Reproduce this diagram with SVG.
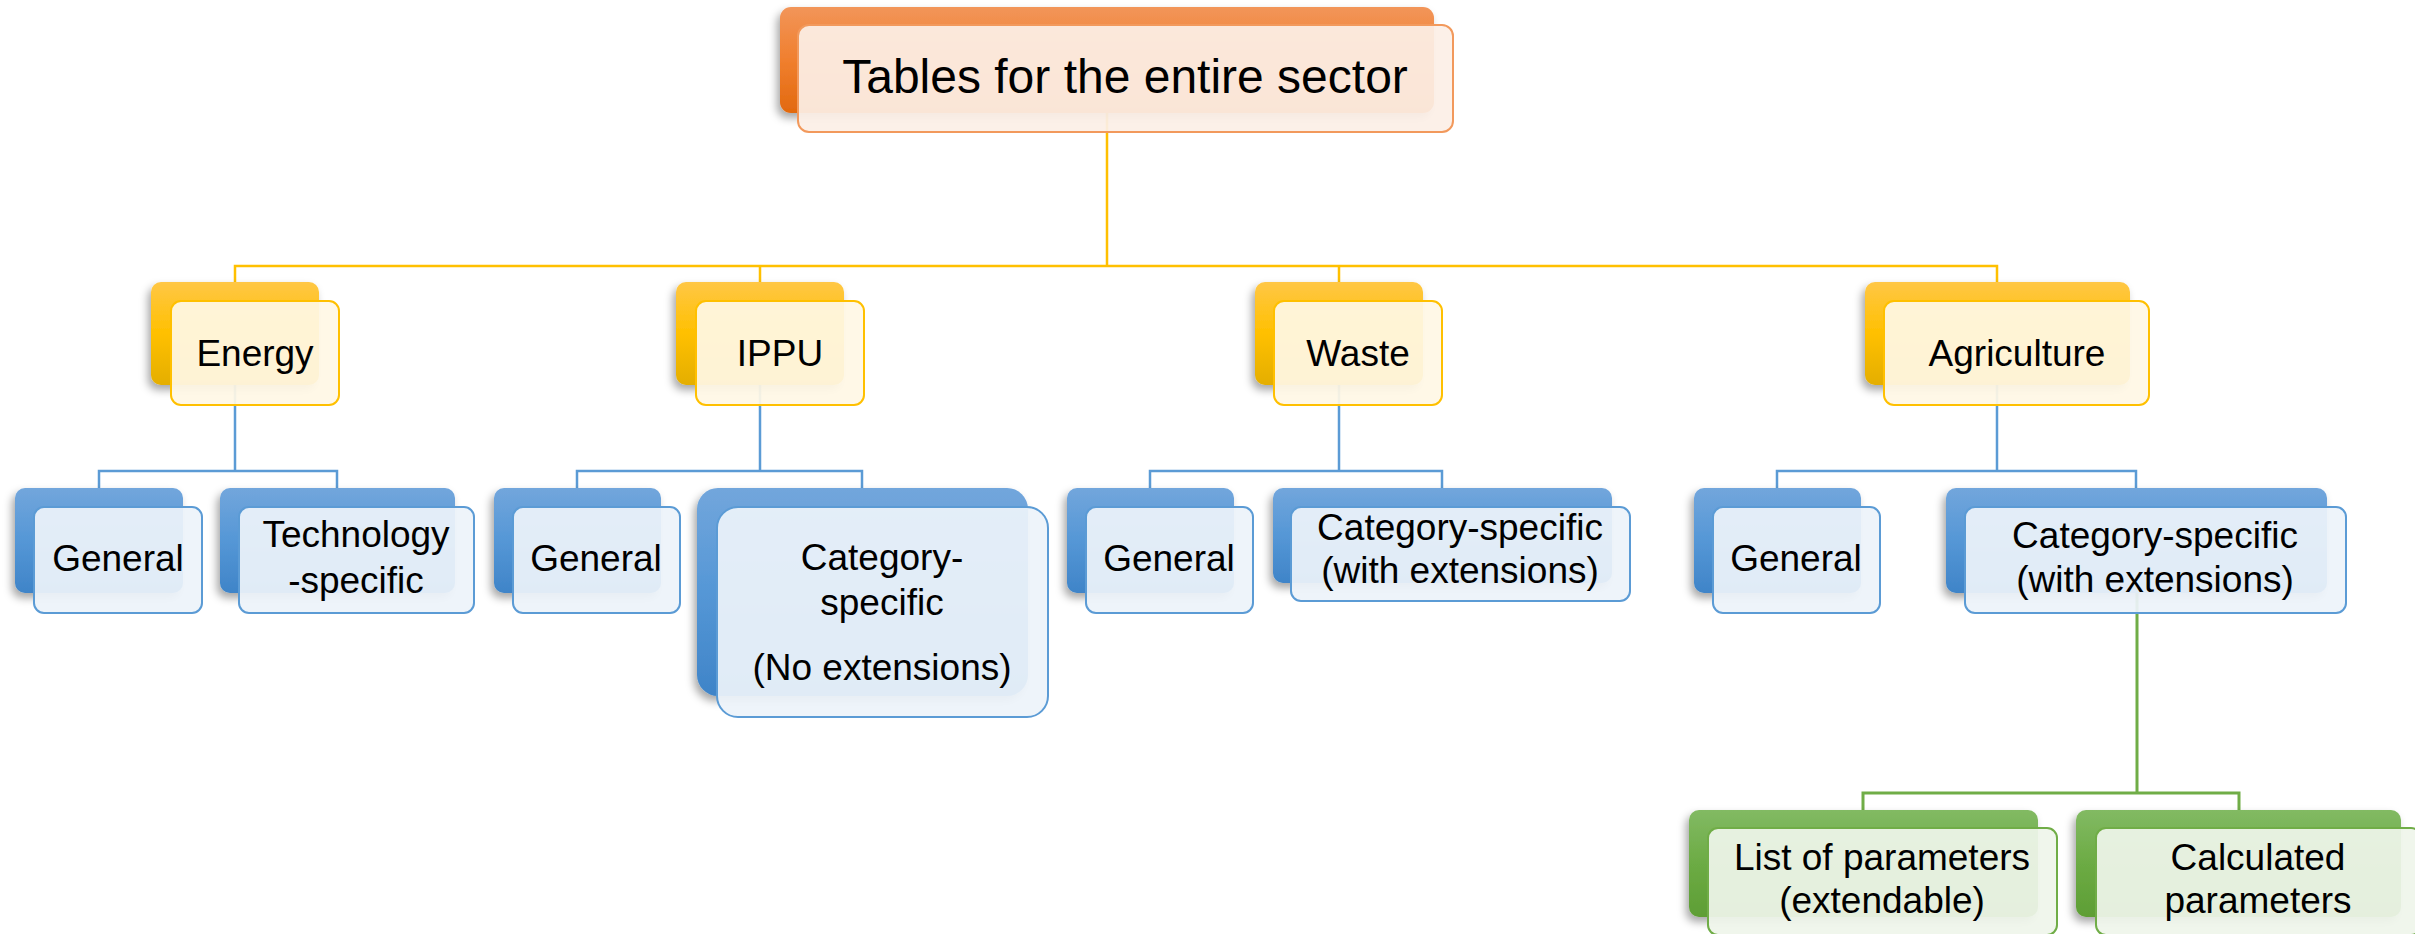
<svg xmlns="http://www.w3.org/2000/svg" width="2415" height="934" viewBox="0 0 2415 934">
<defs>
<linearGradient id="gOrange" x1="0" y1="0" x2="0" y2="1"><stop offset="0" stop-color="#F29559"/><stop offset="0.5" stop-color="#F07F2E"/><stop offset="1" stop-color="#E2690F"/></linearGradient>
<linearGradient id="gYellow" x1="0" y1="0" x2="0" y2="1"><stop offset="0" stop-color="#FFC746"/><stop offset="0.5" stop-color="#FFC000"/><stop offset="1" stop-color="#E4AE00"/></linearGradient>
<linearGradient id="gBlue" x1="0" y1="0" x2="0" y2="1"><stop offset="0" stop-color="#72A6DC"/><stop offset="0.5" stop-color="#5597D6"/><stop offset="1" stop-color="#3F84C8"/></linearGradient>
<linearGradient id="gGreen" x1="0" y1="0" x2="0" y2="1"><stop offset="0" stop-color="#82BA63"/><stop offset="0.5" stop-color="#6CAB44"/><stop offset="1" stop-color="#5E9E35"/></linearGradient>
<filter id="sh" x="-20%" y="-20%" width="140%" height="150%"><feDropShadow dx="-3" dy="5" stdDeviation="4" flood-color="#000" flood-opacity="0.35"/></filter>
</defs>
<style>
.t{font-family:"Liberation Sans",Arial,sans-serif;font-size:37px;fill:#000;text-anchor:middle}
.tt{font-size:48px}
.bo{fill:url(#gOrange);filter:url(#sh)}
.by{fill:url(#gYellow);filter:url(#sh)}
.bb{fill:url(#gBlue);filter:url(#sh)}
.bg{fill:url(#gGreen);filter:url(#sh)}
.fo{fill:#FCEFE6;fill-opacity:0.93;stroke:#F2995C;stroke-width:2}
.fy{fill:#FFF8E5;fill-opacity:0.93;stroke:#FFC000;stroke-width:2}
.fb{fill:#EDF3FA;fill-opacity:0.93;stroke:#5B9BD5;stroke-width:2}
.fg{fill:#EFF5EB;fill-opacity:0.93;stroke:#70AD47;stroke-width:2}
.cy{fill:none;stroke:#FFC000;stroke-width:2.5}
.cb{fill:none;stroke:#5B9BD5;stroke-width:2.5}
.cg{fill:none;stroke:#70AD47;stroke-width:3}
</style>
<rect width="2415" height="934" fill="#fff"/>
<g id="connectors">
<path class="cy" d="M1107 113V266M235 282V266H1997V282M760 266V282M1339 266V282"/>
<path class="cb" d="M235 385V471M99 488V471H337V488"/>
<path class="cb" d="M760 385V471M577 488V471H862V488"/>
<path class="cb" d="M1339 385V471M1150 488V471H1442V488"/>
<path class="cb" d="M1997 385V471M1777 488V471H2136V488"/>
<path class="cg" d="M2137 593V793M1863 810V793H2239V810"/>
</g>
<g id="node-top">
<rect class="bo" x="780" y="7" width="654" height="106" rx="11"/>
<rect class="fo" x="798" y="25" width="655" height="107" rx="11"/>
<text class="t tt" x="1125" y="93">Tables for the entire sector</text>
</g>
<g id="node-energy">
<rect class="by" x="151" y="282" width="168" height="103" rx="10"/>
<rect class="fy" x="171" y="301" width="168" height="104" rx="10"/>
<text class="t" x="255" y="366">Energy</text>
</g>
<g id="node-ippu">
<rect class="by" x="676" y="282" width="168" height="103" rx="10"/>
<rect class="fy" x="696" y="301" width="168" height="104" rx="10"/>
<text class="t" x="780" y="366">IPPU</text>
</g>
<g id="node-waste">
<rect class="by" x="1255" y="282" width="168" height="103" rx="10"/>
<rect class="fy" x="1274" y="301" width="168" height="104" rx="10"/>
<text class="t" x="1358" y="366">Waste</text>
</g>
<g id="node-agriculture">
<rect class="by" x="1865" y="282" width="265" height="103" rx="10"/>
<rect class="fy" x="1884" y="301" width="265" height="104" rx="10"/>
<text class="t" x="2017" y="366">Agriculture</text>
</g>
<g id="node-energy-general">
<rect class="bb" x="15" y="488" width="168" height="105" rx="10"/>
<rect class="fb" x="34" y="507" width="168" height="106" rx="10"/>
<text class="t" x="118" y="571">General</text>
</g>
<g id="node-energy-tech">
<rect class="bb" x="220" y="488" width="235" height="105" rx="10"/>
<rect class="fb" x="239" y="507" width="235" height="106" rx="10"/>
<text class="t" x="356" y="547">Technology</text>
<text class="t" x="356" y="593">-specific</text>
</g>
<g id="node-ippu-general">
<rect class="bb" x="494" y="488" width="167" height="105" rx="10"/>
<rect class="fb" x="513" y="507" width="167" height="106" rx="10"/>
<text class="t" x="596" y="571">General</text>
</g>
<g id="node-ippu-category">
<rect class="bb" x="697" y="488" width="331" height="208" rx="21"/>
<rect class="fb" x="717" y="507" width="331" height="210" rx="21"/>
<text class="t" x="882" y="570">Category-</text>
<text class="t" x="882" y="615">specific</text>
<text class="t" x="882" y="680">(No extensions)</text>
</g>
<g id="node-waste-general">
<rect class="bb" x="1067" y="488" width="167" height="105" rx="10"/>
<rect class="fb" x="1086" y="507" width="167" height="106" rx="10"/>
<text class="t" x="1169" y="571">General</text>
</g>
<g id="node-waste-category">
<rect class="bb" x="1273" y="488" width="339" height="95" rx="10"/>
<rect class="fb" x="1291" y="507" width="339" height="94" rx="10"/>
<text class="t" x="1460" y="540">Category-specific</text>
<text class="t" x="1460" y="583">(with extensions)</text>
</g>
<g id="node-agri-general">
<rect class="bb" x="1694" y="488" width="167" height="105" rx="10"/>
<rect class="fb" x="1713" y="507" width="167" height="106" rx="10"/>
<text class="t" x="1796" y="571">General</text>
</g>
<g id="node-agri-category">
<rect class="bb" x="1946" y="488" width="381" height="105" rx="10"/>
<rect class="fb" x="1965" y="507" width="381" height="106" rx="10"/>
<text class="t" x="2155" y="548">Category-specific</text>
<text class="t" x="2155" y="592">(with extensions)</text>
</g>
<g id="node-list-params">
<rect class="bg" x="1689" y="810" width="349" height="107" rx="10"/>
<rect class="fg" x="1708" y="828" width="349" height="107" rx="10"/>
<text class="t" x="1882" y="870">List of parameters</text>
<text class="t" x="1882" y="913">(extendable)</text>
</g>
<g id="node-calc-params">
<rect class="bg" x="2076" y="810" width="325" height="107" rx="10"/>
<rect class="fg" x="2096" y="828" width="325" height="107" rx="10"/>
<text class="t" x="2258" y="870">Calculated</text>
<text class="t" x="2258" y="913">parameters</text>
</g>
</svg>
